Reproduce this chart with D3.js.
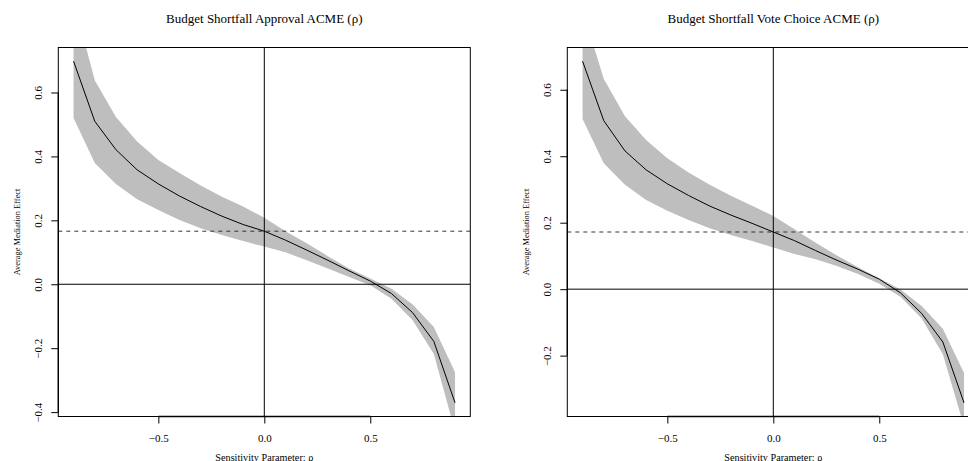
<!DOCTYPE html>
<html>
<head>
<meta charset="utf-8">
<script src="https://cdn.jsdelivr.net/npm/d3@7/dist/d3.min.js"></script>
<style>
  html, body { margin: 0; padding: 0; background: #fff; }
  svg { display: block; font-family: "Liberation Serif", "Times New Roman", serif; }
</style>
</head>
<body>
<svg id="chart" width="968" height="461"></svg>
<script>
// Sensitivity parameter grid
const rho = [-0.9, -0.8, -0.7, -0.6, -0.5, -0.4, -0.3, -0.2, -0.1, 0.0,
             0.1, 0.2, 0.3, 0.4, 0.5, 0.6, 0.7, 0.8, 0.9];

// Approval model: ACME(rho) with confidence band
const approvalEst = [0.698, 0.510, 0.421, 0.358, 0.314, 0.276, 0.243, 0.213, 0.187, 0.166,
                     0.138, 0.107, 0.075, 0.042, 0.010, -0.029, -0.089, -0.179, -0.371];
const approvalHi  = [0.890, 0.638, 0.523, 0.447, 0.389, 0.348, 0.309, 0.274, 0.243, 0.208,
                     0.166, 0.128, 0.088, 0.049, 0.018, -0.014, -0.063, -0.134, -0.275];
const approvalLo  = [0.520, 0.379, 0.314, 0.266, 0.232, 0.201, 0.175, 0.154, 0.135, 0.118,
                     0.100, 0.075, 0.049, 0.023, -0.003, -0.045, -0.113, -0.218, -0.460];
const approvalAcme = 0.166;

// Vote choice model: ACME(rho) with confidence band
const voteEst = [0.686, 0.507, 0.416, 0.359, 0.317, 0.282, 0.250, 0.223, 0.198, 0.172,
                 0.146, 0.116, 0.087, 0.060, 0.030, -0.011, -0.073, -0.159, -0.342];
const voteHi  = [0.840, 0.633, 0.520, 0.449, 0.394, 0.351, 0.314, 0.281, 0.251, 0.220,
                 0.180, 0.140, 0.101, 0.066, 0.033, -0.001, -0.051, -0.119, -0.252];
const voteLo  = [0.512, 0.379, 0.314, 0.268, 0.236, 0.208, 0.183, 0.163, 0.145, 0.125,
                 0.106, 0.090, 0.070, 0.046, 0.016, -0.023, -0.088, -0.196, -0.413];
const voteAcme = 0.172;

// Axis ticks
const xTicks = [-0.5, 0.0, 0.5];
const approvalYTicks = [-0.4, -0.2, 0.0, 0.2, 0.4, 0.6];
const voteYTicks = [-0.2, 0.0, 0.2, 0.4, 0.6];

// Titles and axis labels
const titles = ["Budget Shortfall Approval ACME (\u03C1)", "Budget Shortfall Vote Choice ACME (\u03C1)"];
const xLabel = "Sensitivity Parameter: \u03C1";
const yLabel = "Average Mediation Effect";

const panels = [
  { title: titles[0], est: approvalEst, lo: approvalLo, hi: approvalHi, acme: approvalAcme, yTicks: approvalYTicks, left: 58.3 },
  { title: titles[1], est: voteEst, lo: voteLo, hi: voteHi, acme: voteAcme, yTicks: voteYTicks, left: 567.3 }
];

const svg = d3.select("#chart");
const plotW = 412, plotTop = 47.5, plotBottom = 416.5;

// R-style axis range: data range padded by 4% on each side
function padded(ext) {
  const d = (ext[1] - ext[0]) * 0.04;
  return [ext[0] - d, ext[1] + d];
}

panels.forEach((p, i) => {
  const g = svg.append("g");
  const x = d3.scaleLinear().domain(padded(d3.extent(rho))).range([p.left, p.left + plotW]);
  const y = d3.scaleLinear().domain(padded(d3.extent(p.est))).range([plotBottom, plotTop]);

  const clipId = "clip" + i;
  g.append("clipPath").attr("id", clipId)
    .append("rect")
    .attr("x", p.left).attr("y", plotTop)
    .attr("width", plotW).attr("height", plotBottom - plotTop);

  const inner = g.append("g").attr("clip-path", `url(#${clipId})`);

  // Confidence band
  const area = d3.area()
    .x((d, k) => x(rho[k]))
    .y0((d, k) => y(p.lo[k]))
    .y1((d, k) => y(p.hi[k]));
  inner.append("path").datum(p.est)
    .attr("d", area)
    .attr("fill", "#bebebe")
    .attr("stroke", "none");

  // Reference lines at zero
  inner.append("line")
    .attr("x1", p.left).attr("x2", p.left + plotW)
    .attr("y1", y(0)).attr("y2", y(0))
    .attr("stroke", "#000").attr("stroke-width", 1);
  inner.append("line")
    .attr("x1", x(0)).attr("x2", x(0))
    .attr("y1", plotTop).attr("y2", plotBottom)
    .attr("stroke", "#000").attr("stroke-width", 1);

  // Dashed line at the estimated ACME
  inner.append("line")
    .attr("x1", p.left).attr("x2", p.left + plotW)
    .attr("y1", y(p.acme)).attr("y2", y(p.acme))
    .attr("stroke", "#333").attr("stroke-width", 1)
    .attr("stroke-dasharray", "4,4");

  // ACME curve
  const line = d3.line().x((d, k) => x(rho[k])).y(d => y(d));
  inner.append("path").datum(p.est)
    .attr("d", line)
    .attr("fill", "none")
    .attr("stroke", "#000")
    .attr("stroke-width", 1);

  // Plot box
  g.append("rect")
    .attr("x", p.left).attr("y", plotTop)
    .attr("width", plotW).attr("height", plotBottom - plotTop)
    .attr("fill", "none").attr("stroke", "#000").attr("stroke-width", 1);

  // Bottom axis
  const xAxis = d3.axisBottom(x).tickValues(xTicks).tickSizeOuter(0).tickSize(7)
    .tickFormat(d3.format(".1f"));
  const gx = g.append("g").attr("transform", `translate(0,${plotBottom})`).call(xAxis);
  gx.select(".domain").attr("d", `M${x(xTicks[0])},0H${x(xTicks[xTicks.length - 1])}`)
    .attr("stroke", "#000").attr("stroke-width", 1.3);
  gx.selectAll(".tick line").attr("stroke", "#000");
  gx.selectAll(".tick text")
    .attr("y", 25).attr("dy", null)
    .style("font-family", "Liberation Serif").style("font-size", "11px").attr("fill", "#000");

  // Left axis with rotated labels
  const yAxis = d3.axisLeft(y).tickValues(p.yTicks).tickSizeOuter(0).tickSize(7)
    .tickFormat(d3.format(".1f"));
  const gy = g.append("g").attr("transform", `translate(${p.left},0)`).call(yAxis);
  const yt = p.yTicks;
  gy.select(".domain").attr("d", `M0,${y(yt[0])}V${y(yt[yt.length - 1])}`)
    .attr("stroke", "#000").attr("stroke-width", 1.3);
  gy.selectAll(".tick line").attr("stroke", "#000");
  gy.selectAll(".tick text")
    .attr("x", null).attr("dy", null)
    .attr("transform", "translate(-16.6,0) rotate(-90)")
    .attr("text-anchor", "middle")
    .style("font-family", "Liberation Serif").style("font-size", "11px").attr("fill", "#000");

  // Title
  g.append("text")
    .attr("x", p.left + plotW / 2).attr("y", 22.7)
    .attr("text-anchor", "middle")
    .style("font-size", "13px")
    .text(p.title);

  // Axis labels
  g.append("text")
    .attr("x", p.left + plotW / 2).attr("y", 460.5)
    .attr("text-anchor", "middle")
    .style("font-size", "10.2px")
    .text(xLabel);
  g.append("text")
    .attr("transform", `translate(${p.left - 38.5},${(plotTop + plotBottom) / 2}) rotate(-90)`)
    .attr("text-anchor", "middle")
    .style("font-size", "8.4px")
    .text(yLabel);
});
</script>
</body>
</html>
